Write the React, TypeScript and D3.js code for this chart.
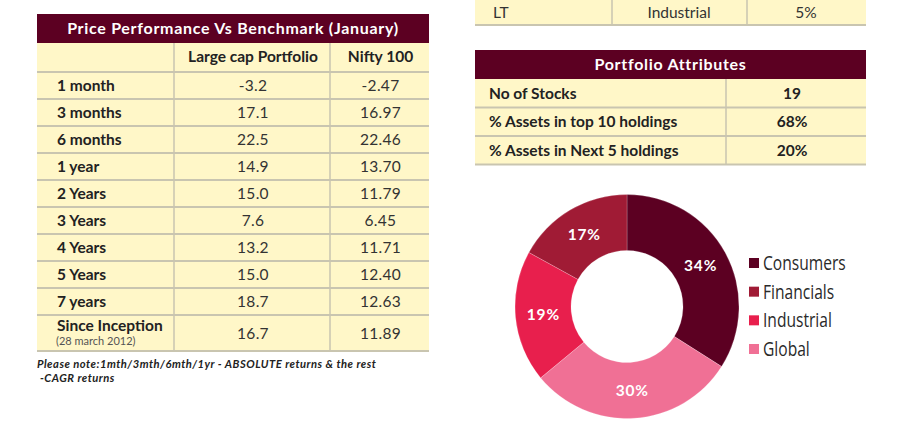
import React, { useRef, useEffect } from "react";
import * as d3 from "d3";

// performance table
const perfTitle = "Price Performance Vs Benchmark (January)";
const perfHeaders = ["Large cap Portfolio", "Nifty 100"];
const periods = ["1 month", "3 months", "6 months", "1 year", "2 Years", "3 Years", "4 Years", "5 Years", "7 years", "Since Inception"];
const portfolioReturns = [-3.2, 17.1, 22.5, 14.9, 15.0, 7.6, 13.2, 15.0, 18.7, 16.7];
const niftyReturns = [-2.47, 16.97, 22.46, 13.7, 11.79, 6.45, 11.71, 12.4, 12.63, 11.89];
const inceptionNote = "(28 march 2012)";
const footnote = ["Please note:1mth/3mth/6mth/1yr - ABSOLUTE returns & the rest", " -CAGR returns"];

// top holding row (cut off)
const holdingRow = ["LT", "Industrial", "5%"];

// portfolio attributes
const attrTitle = "Portfolio Attributes";
const attrLabels = ["No of Stocks", "% Assets in top 10 holdings", "% Assets in Next 5 holdings"];
const attrValues = ["19", "68%", "20%"];

// sector donut
const sectors = ["Consumers", "Financials", "Industrial", "Global"];
const sectorShares = [34, 17, 19, 30];
const sliceOrder = ["Consumers", "Global", "Industrial", "Financials"];
const sectorColors = ["#5c0022", "#a01b35", "#e81f4d", "#f07095"];

const W = 903;
const H = 431;
const MAROON = "#5c0022";
const CREAM = "#fff7c8";
const GRID = "#c9c5b0";
const FONT = "Lato, 'Open Sans', sans-serif";
const FS = 15.5;

type Sector = { name: string; value: number; color: string };

export default function App() {
  const svgRef = useRef<SVGSVGElement>(null);

  useEffect(() => {
    const svg = d3.select(svgRef.current);
    svg.selectAll("*").remove();
    svg.attr("width", W).attr("height", H).attr("viewBox", `0 0 ${W} ${H}`);
    svg.append("rect").attr("width", W).attr("height", H).attr("fill", "#fff");

    // ---------- performance table ----------
    const t = svg.append("g").attr("font-family", FONT);
    const tx0 = 37, tx1 = 429, c1 = 174, c2 = 330;
    const titleTop = 14, headTop = 43, rowTop = 72;
    const rowH = 27, lastH = 36;

    const rowY = d3.scaleBand<string>()
      .domain(periods.slice(0, -1))
      .range([rowTop, rowTop + rowH * (periods.length - 1)]);
    const yOf = (p: string) => (rowY(p) !== undefined ? (rowY(p) as number) : rowTop + rowH * (periods.length - 1));
    const hOf = (p: string) => (rowY(p) !== undefined ? rowH : lastH);
    const tableBottom = rowTop + rowH * (periods.length - 1) + lastH;

    t.append("rect").attr("x", tx0).attr("y", headTop).attr("width", tx1 - tx0)
      .attr("height", tableBottom - headTop).attr("fill", CREAM);
    t.append("rect").attr("x", tx0).attr("y", titleTop).attr("width", tx1 - tx0)
      .attr("height", headTop - titleTop).attr("fill", MAROON);
    t.append("text").attr("x", (tx0 + tx1) / 2).attr("y", titleTop + 20)
      .attr("text-anchor", "middle").attr("fill", "#fff").attr("font-weight", 700)
      .attr("font-size", 16).attr("letter-spacing", 0.7).text(perfTitle);

    const colX = [(c1 + c2) / 2 + 1, (c2 + tx1) / 2 + 1];
    t.selectAll("text.head").data(perfHeaders).join("text").attr("class", "head")
      .attr("x", (d, i) => colX[i]).attr("y", headTop + 19)
      .attr("text-anchor", "middle").attr("font-weight", 700).attr("font-size", FS)
      .attr("fill", "#222").text(d => d);

    // horizontal grid lines
    const lineYs = [rowTop, ...periods.slice(1).map(yOf), tableBottom];
    t.selectAll("line.h").data(lineYs).join("line").attr("class", "h")
      .attr("x1", tx0).attr("x2", tx1).attr("y1", d => d).attr("y2", d => d)
      .attr("stroke", GRID).attr("stroke-width", 2);
    [c1, c2].forEach(x => {
      t.append("line").attr("x1", x).attr("x2", x).attr("y1", headTop).attr("y2", tableBottom)
        .attr("stroke", GRID).attr("stroke-width", 1.5);
    });

    const fmt1 = d3.format(".1f");
    const fmt2 = d3.format(".2f");
    const dash = (s: string) => s.replace("\u2212", "-");
    const rows = t.selectAll("g.row").data(periods).join("g").attr("class", "row");
    rows.append("text")
      .attr("x", 57)
      .attr("y", (d, i) => yOf(d) + (i === periods.length - 1 ? 16 : 19))
      .attr("font-weight", 700).attr("font-size", FS).attr("fill", "#222").text(d => d);
    rows.append("text")
      .attr("x", colX[0]).attr("y", d => yOf(d) + hOf(d) / 2 + 5.5)
      .attr("text-anchor", "middle").attr("font-size", FS).attr("fill", "#333")
      .attr("letter-spacing", 0.3)
      .text((d, i) => dash(fmt1(portfolioReturns[i])));
    rows.append("text")
      .attr("x", colX[1]).attr("y", d => yOf(d) + hOf(d) / 2 + 5.5)
      .attr("text-anchor", "middle").attr("font-size", FS).attr("fill", "#333")
      .attr("letter-spacing", 0.3)
      .text((d, i) => dash(fmt2(niftyReturns[i])));
    t.append("text").attr("x", 56).attr("y", yOf(periods[periods.length - 1]) + 30)
      .attr("font-size", 11).attr("fill", "#555").text(inceptionNote);

    t.selectAll("text.note").data(footnote).join("text").attr("class", "note")
      .attr("x", tx0).attr("y", (d, i) => 368 + i * 13.5)
      .attr("font-size", 11.2).attr("font-style", "italic").attr("font-weight", 700)
      .attr("letter-spacing", 0.5)
      .attr("fill", "#222").style("white-space", "pre").text(d => d);

    // ---------- right side tables ----------
    const r = svg.append("g").attr("font-family", FONT);
    const rx0 = 475, rx1 = 866;

    r.append("rect").attr("x", rx0).attr("y", -4).attr("width", rx1 - rx0).attr("height", 29).attr("fill", CREAM);
    r.append("line").attr("x1", rx0).attr("x2", rx1).attr("y1", 25).attr("y2", 25).attr("stroke", GRID).attr("stroke-width", 2);
    [612, 747].forEach(x => {
      r.append("line").attr("x1", x).attr("x2", x).attr("y1", 0).attr("y2", 25).attr("stroke", GRID).attr("stroke-width", 1.5);
    });
    const holdX = [493, 679, 806];
    r.selectAll("text.hold").data(holdingRow).join("text").attr("class", "hold")
      .attr("x", (d, i) => holdX[i]).attr("y", 18)
      .attr("text-anchor", (d, i) => (i === 0 ? "start" : "middle"))
      .attr("font-size", FS).attr("fill", "#333").text(d => d);

    const aTop = 50, aHead = 79, aRowH = 28.5;
    const aRow = d3.scaleBand<string>().domain(attrLabels).range([aHead, aHead + aRowH * attrLabels.length]);
    const aBottom = aHead + aRowH * attrLabels.length;
    r.append("rect").attr("x", rx0).attr("y", aHead).attr("width", rx1 - rx0).attr("height", aBottom - aHead).attr("fill", CREAM);
    r.append("rect").attr("x", rx0).attr("y", aTop).attr("width", rx1 - rx0).attr("height", aHead - aTop).attr("fill", MAROON);
    r.append("text").attr("x", (rx0 + rx1) / 2).attr("y", aTop + 20).attr("text-anchor", "middle")
      .attr("fill", "#fff").attr("font-weight", 700).attr("font-size", 16).attr("letter-spacing", 0.7).text(attrTitle);
    r.selectAll("line.ah").data(attrLabels.slice(1).map(d => aRow(d) as number).concat([aBottom]))
      .join("line").attr("class", "ah")
      .attr("x1", rx0).attr("x2", rx1).attr("y1", d => d).attr("y2", d => d)
      .attr("stroke", GRID).attr("stroke-width", 2);
    r.append("line").attr("x1", 726).attr("x2", 726).attr("y1", aHead).attr("y2", aBottom)
      .attr("stroke", GRID).attr("stroke-width", 1.5);
    r.selectAll("text.al").data(attrLabels).join("text").attr("class", "al")
      .attr("x", 489).attr("y", d => (aRow(d) as number) + 19.5)
      .attr("font-weight", 700).attr("font-size", FS).attr("fill", "#222").text(d => d);
    r.selectAll("text.av").data(attrValues).join("text").attr("class", "av")
      .attr("x", 792).attr("y", (d, i) => (aRow(attrLabels[i]) as number) + 19.5)
      .attr("text-anchor", "middle").attr("font-weight", 700).attr("font-size", FS).attr("fill", "#222").text(d => d);

    // ---------- donut ----------
    const data: Sector[] = sectors.map((s, i) => ({ name: s, value: sectorShares[i], color: sectorColors[i] }));
    const pie = d3.pie<Sector>()
      .value(d => d.value)
      .sort((a, b) => sliceOrder.indexOf(a.name) - sliceOrder.indexOf(b.name));
    const arcs = pie(data);
    const arc = d3.arc<d3.PieArcDatum<Sector>>().innerRadius(56).outerRadius(112);
    const labelArc = d3.arc<d3.PieArcDatum<Sector>>().innerRadius(84).outerRadius(84);

    const dg = svg.append("g").attr("transform", "translate(627,306.5)");
    dg.selectAll("path").data(arcs).join("path")
      .attr("d", arc).attr("fill", d => d.data.color)
      .attr("stroke", "#ffffff").attr("stroke-opacity", 0.35).attr("stroke-width", 0.6);
    dg.selectAll("text").data(arcs).join("text")
      .attr("transform", d => `translate(${labelArc.centroid(d)})`)
      .attr("text-anchor", "middle").attr("dy", "0.35em")
      .attr("font-family", FONT).attr("font-weight", 700).attr("font-size", 15.5)
      .attr("fill", "#fff").attr("letter-spacing", 0.8)
      .text(d => `${d.data.value}%`);

    // legend (condensed look)
    const lg = svg.append("g").attr("transform", "translate(749,263)");
    const ly = d3.scalePoint<string>().domain(sectors).range([0, 86]);
    lg.selectAll("rect").data(data).join("rect")
      .attr("x", 0).attr("y", d => (ly(d.name) as number) - 5)
      .attr("width", 10).attr("height", 10).attr("fill", d => d.color);
    lg.selectAll("text").data(data).join("text")
      .attr("transform", d => `translate(14,${ly(d.name)}) scale(0.8,1)`)
      .attr("dy", "0.36em")
      .attr("font-family", "'Open Sans', sans-serif")
      .attr("font-size", 19.5).attr("fill", "#2a2a2a").text(d => d.name);
  }, []);

  return (
    <div style={{ position: "absolute", left: 0, top: 0, width: W, height: H, overflow: "hidden" }}>
      <svg ref={svgRef} style={{ display: "block" }}></svg>
    </div>
  );
}
